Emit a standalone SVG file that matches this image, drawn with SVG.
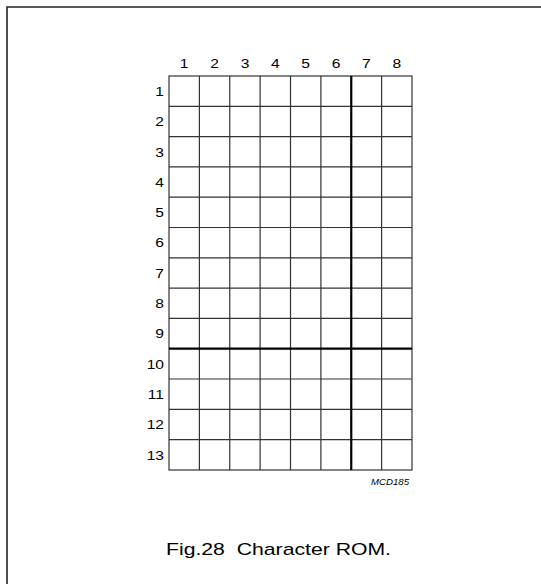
<svg xmlns="http://www.w3.org/2000/svg" width="541" height="584" viewBox="0 0 541 584">
<style>
.t{font-family:"Liberation Sans",Arial,sans-serif;font-size:13px;fill:#000}
.c{text-anchor:middle}
.r{text-anchor:end}
.g{stroke:#333;stroke-width:1.2;fill:none}
.k{stroke:#000;stroke-width:2.2;fill:none}
</style>
<rect width="541" height="584" fill="#fff"/>
<g id="frame"><path d="M7,584 V7 H541" stroke="#222" stroke-width="1.6" fill="none"/></g>
<g id="grid">
<rect x="169" y="76" width="243" height="394" class="g"/>
<path class="g" d="M199.4,76V470M229.75,76V470M260.1,76V470M290.5,76V470M320.9,76V470M381.6,76V470"/>
<path class="g" d="M169,106.3H412M169,136.6H412M169,166.9H412M169,197.2H412M169,227.5H412M169,257.8H412M169,288.1H412M169,318.4H412M169,379H412M169,409.3H412M169,439.6H412"/>
<path class="k" d="M351.25,76V470M169,348.7H412"/>
</g>
<g id="colLabels" class="t c" transform="matrix(1.2,0,0,1,0,0)">
<text x="153.5" y="68">1</text><text x="178.83" y="68">2</text><text x="204.17" y="68">3</text><text x="229.42" y="68">4</text><text x="254.75" y="68">5</text><text x="280" y="68">6</text><text x="305.33" y="68">7</text><text x="330.67" y="68">8</text>
</g>
<g id="rowLabels" class="t r" transform="matrix(1.2,0,0,1,0,0)">
<text x="136.67" y="96">1</text><text x="136.67" y="126.3">2</text><text x="136.67" y="156.6">3</text><text x="136.67" y="186.9">4</text><text x="136.67" y="217.2">5</text><text x="136.67" y="247.5">6</text><text x="136.67" y="277.8">7</text><text x="136.67" y="308.1">8</text><text x="136.67" y="338.4">9</text><text x="136.67" y="368.7">10</text><text x="136.67" y="399">11</text><text x="136.67" y="429.3">12</text><text x="136.67" y="459.6">13</text>
</g>
<text x="371" y="485" textLength="38" lengthAdjust="spacingAndGlyphs" style="font-family:'Liberation Sans',Arial,sans-serif;font-size:9px;font-style:italic">MCD185</text>
<text x="166" y="555" textLength="225" lengthAdjust="spacingAndGlyphs" style="font-family:'Liberation Sans',Arial,sans-serif;font-size:17px;white-space:pre" xml:space="preserve">Fig.28  Character ROM.</text>
</svg>
